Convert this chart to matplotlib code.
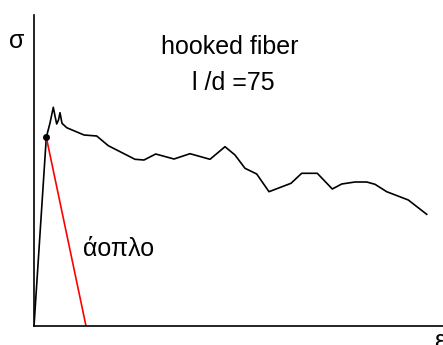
import matplotlib.pyplot as plt

plt.rcParams['font.family'] = ['Liberation Sans', 'DejaVu Sans']

# stress-strain curve, hooked fiber reinforced
strain = [0, 12.3, 16, 19.3, 21, 22.7, 24.5, 26, 28, 32.7, 50, 62.7, 74.3, 101, 110,
          121.7, 140, 156, 176, 191, 201, 211, 222.7, 235, 257, 267.7, 283.3,
          298.3, 307.7, 321, 332.7, 341, 352.7, 374.3, 392.7]
stress = [0, 188.7, 203, 218.7, 210, 202, 206, 213.3, 202.7, 198.3, 191, 190, 180.3,
          166.7, 166, 172, 167, 172.3, 166.7, 179.3, 171, 157.7, 152, 134.3, 142.7,
          152.7, 152.7, 137, 142, 144, 144, 141.7, 134.3, 126, 111.7]

# plain concrete branch
plain_strain = [12.3, 52]
plain_stress = [188.7, 0]

fig = plt.figure(figsize=(4.43, 3.45), dpi=100)
ax = fig.add_axes([34 / 443, 19 / 345, 409 / 443, 311 / 345])

ax.plot(strain, stress, color='black', lw=1.2, solid_joinstyle='round')
ax.plot(plain_strain, plain_stress, color='red', lw=1.2)
ax.plot([plain_strain[0]], [plain_stress[0]], 'o', color='black', ms=4)

ax.set_xlim(0, 409)
ax.set_ylim(0, 311)
for s in ['top', 'right']:
    ax.spines[s].set_visible(False)
for s in ['left', 'bottom']:
    ax.spines[s].set_linewidth(1.2)
ax.set_xticks([])
ax.set_yticks([])

ax.text(-17, 285, 'σ', fontsize=18, ha='center', va='center', clip_on=False)
ax.text(406, -15, 'ε', fontsize=18, ha='center', va='center', clip_on=False)
ax.text(196, 279, 'hooked fiber', fontsize=18, ha='center', va='center')
ax.text(199, 243, 'l /d =75', fontsize=18, ha='center', va='center')
ax.text(85, 77, 'άοπλο', fontsize=18, ha='center', va='center')

fig.savefig('out.png', dpi=100)
